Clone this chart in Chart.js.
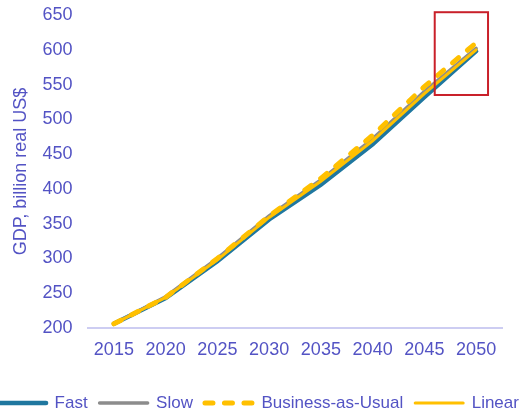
<!DOCTYPE html>
<html>
<head>
<meta charset="utf-8">
<script src="https://cdn.jsdelivr.net/npm/chart.js@4.4.1/dist/chart.umd.min.js"></script>
<style>
  html, body { margin: 0; padding: 0; background: #ffffff; }
  #wrap { width: 527px; height: 413px; }
</style>
</head>
<body>
<div id="wrap"><canvas id="gdp" width="527" height="413"></canvas></div>
<script>
// Scenario years and GDP projections (billion real US$)
const years = ['2015', '2020', '2025', '2030', '2035', '2040', '2045', '2050'];
const fast = [206, 243, 296, 356, 406, 464, 532, 598];
const slow = [206, 245, 300, 361, 413, 472, 540, 602];
const businessAsUsual = [206, 244, 300, 361, 415, 477, 547, 610];
const linear = [206, 244, 298, 359, 411, 469, 537, 600];

// Value axis range
const yMin = 200;
const yMax = 650;
const yStep = 50;

// Highlighted 2045-2050 window, in category index / GDP units
const focusFrom = 6.2;
const focusTo = 7.23;
const focusLow = 535;
const focusHigh = 654;

const textColor = '#5353c4';
const fontFamily = "'Liberation Sans', Arial, sans-serif";

const focusBox = {
  id: 'focusBox',
  afterDraw(chart) {
    const { ctx, scales: { x, y } } = chart;
    const left = x.getPixelForValue(focusFrom);
    const right = x.getPixelForValue(focusTo);
    const top = y.getPixelForValue(focusHigh);
    const bottom = y.getPixelForValue(focusLow);
    ctx.save();
    ctx.strokeStyle = '#c9202a';
    ctx.lineWidth = 2;
    ctx.strokeRect(left, top, right - left, bottom - top);
    ctx.restore();
  }
};

// Legend entries drawn as short line samples carrying each series' dash and cap
function lineLegendLabels(chart) {
  const items = Chart.defaults.plugins.legend.labels.generateLabels(chart);
  return items.map((item) => {
    const ds = chart.data.datasets[item.datasetIndex];
    item.lineDash = ds.borderDash || [];
    item.lineCap = ds.borderCapStyle || 'butt';
    item.lineWidth = ds.borderWidth;
    item.strokeStyle = ds.borderColor;
    return item;
  });
}

new Chart(document.getElementById('gdp'), {
  type: 'line',
  data: {
    labels: years,
    datasets: [
      { label: 'Fast', data: fast, borderColor: '#1f779f', backgroundColor: '#1f779f',
        borderWidth: 4.5, borderCapStyle: 'round', order: 4 },
      { label: 'Slow', data: slow, borderColor: '#8c8c8c', backgroundColor: '#8c8c8c',
        borderWidth: 3.5, borderCapStyle: 'round', order: 3 },
      { label: 'Business-as-Usual', data: businessAsUsual, borderColor: '#ffc000', backgroundColor: '#ffc000',
        borderWidth: 5, borderDash: [8, 11.5], borderCapStyle: 'round', order: 1 },
      { label: 'Linear', data: linear, borderColor: '#ffc000', backgroundColor: '#ffc000',
        borderWidth: 3, borderCapStyle: 'round', order: 2 }
    ]
  },
  options: {
    responsive: false,
    animation: false,
    devicePixelRatio: 1,
    layout: { padding: { left: -16, right: -6, top: 15, bottom: -8.5 } },
    elements: {
      point: { radius: 0, hoverRadius: 0 },
      line: { tension: 0, fill: false }
    },
    plugins: {
      tooltip: { enabled: false },
      legend: {
        position: 'bottom',
        labels: {
          usePointStyle: true,
          pointStyle: 'line',
          pointStyleWidth: 48,
          padding: 12,
          color: textColor,
          font: { family: fontFamily, size: 17 },
          generateLabels: lineLegendLabels,
          sort: (a, b) => a.datasetIndex - b.datasetIndex
        }
      }
    },
    scales: {
      x: {
        offset: true,
        grid: { display: false, drawTicks: false },
        border: { display: true, color: '#cdcdf2', width: 2 },
        ticks: {
          color: textColor,
          font: { family: fontFamily, size: 18 },
          padding: 11,
          maxRotation: 0,
          autoSkip: false
        },
        afterFit(scale) { scale.height = 54.5; }
      },
      y: {
        min: yMin,
        max: yMax,
        grid: { display: false, drawTicks: false },
        border: { display: false },
        ticks: {
          stepSize: yStep,
          color: textColor,
          font: { family: fontFamily, size: 18 },
          padding: 15.5
        },
        title: {
          display: true,
          text: 'GDP, billion real US$',
          color: textColor,
          font: { family: fontFamily, size: 18 },
          padding: { top: 26, bottom: 0 }
        },
        afterFit(scale) {
          scale.width = 104;
          scale.paddingTop = 10;
          scale.paddingBottom = 10;
        }
      },
      yRight: {
        position: 'right',
        grid: { display: false, drawTicks: false },
        border: { display: false },
        ticks: { display: false },
        afterFit(scale) { scale.width = 31; }
      }
    }
  },
  plugins: [focusBox]
});
</script>
</body>
</html>
